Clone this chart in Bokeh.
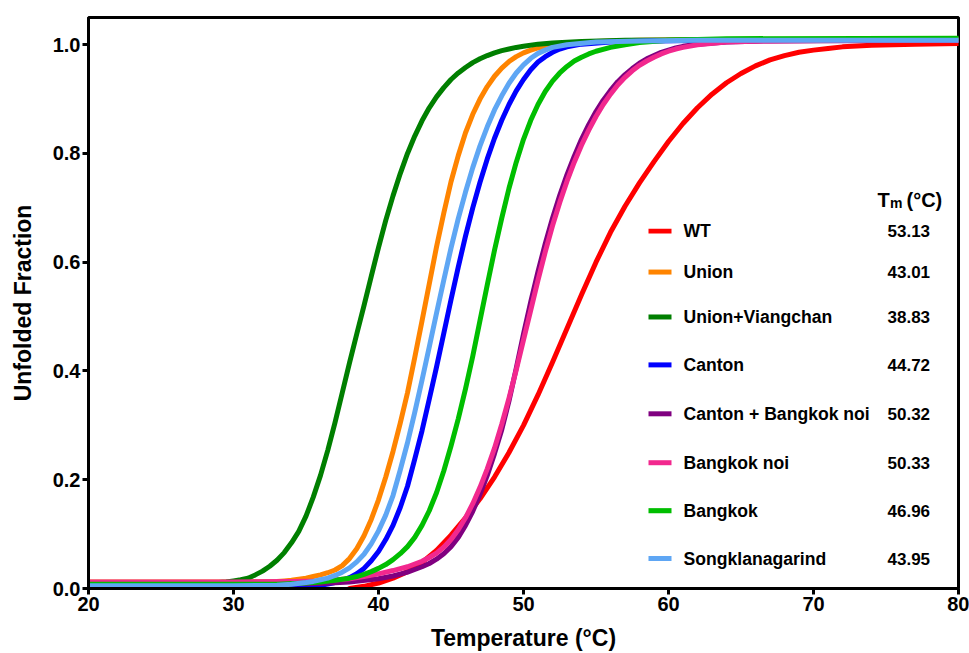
from bokeh.plotting import figure
from bokeh.models import Range1d, FixedTicker, PrintfTickFormatter, Label, BoxAnnotation
from bokeh.embed import file_html
from bokeh.resources import INLINE

# ---------------- data ----------------
series_names = ["WT", "Union", "Union+Viangchan", "Canton", "Canton + Bangkok noi",
                "Bangkok noi", "Bangkok", "Songklanagarind"]
tm_labels = ["53.13", "43.01", "38.83", "44.72", "50.32", "50.33", "46.96", "43.95"]

t_wt = [38, 39, 40, 41, 42, 43, 44, 45, 46, 47, 48, 49, 50, 51, 52, 53, 54, 55, 56, 57, 58,
        59, 60, 61, 62, 63, 64, 65, 66, 67, 68, 69, 70, 71, 72, 74, 77, 80]
f_wt = [0.000, 0.004, 0.010, 0.019, 0.031, 0.048, 0.070, 0.098, 0.130, 0.165, 0.205, 0.250,
        0.300, 0.356, 0.416, 0.478, 0.540, 0.600, 0.655, 0.703, 0.746, 0.785, 0.822, 0.855,
        0.884, 0.909, 0.930, 0.947, 0.961, 0.972, 0.980, 0.986, 0.990, 0.993, 0.996, 0.999,
        1.001, 1.002]

t_union = [20, 30, 33, 33.5, 34, 34.5, 35, 35.5, 36, 36.5, 37, 37.5, 38, 38.5, 39, 39.5, 40,
           40.5, 41, 41.5, 42, 42.5, 43, 43.5, 44, 44.5, 45, 45.5, 46, 46.5, 47, 47.5, 48,
           48.5, 49, 49.5, 50, 50.5, 51, 51.5, 52, 53, 55, 58, 62, 80]
f_union = [0.012, 0.012, 0.013, 0.014, 0.015, 0.017, 0.019, 0.022, 0.025, 0.029, 0.034, 0.042,
           0.055, 0.073, 0.097, 0.127, 0.163, 0.205, 0.252, 0.304, 0.360, 0.425, 0.492, 0.560,
           0.628, 0.690, 0.748, 0.796, 0.838, 0.872, 0.900, 0.923, 0.942, 0.957, 0.969, 0.978,
           0.985, 0.990, 0.994, 0.997, 0.999, 1.003, 1.006, 1.008, 1.009, 1.010]

t_union_viang = [20, 28, 29, 29.5, 30, 30.5, 31, 31.5, 32, 32.5, 33, 33.5, 34, 34.5, 35, 35.5,
                 36, 36.5, 37, 37.5, 38, 38.5, 39, 39.5, 40, 40.5, 41, 41.5, 42, 42.5, 43,
                 43.5, 44, 44.5, 45, 45.5, 46, 46.5, 47, 47.5, 48, 48.5, 49, 49.5, 50, 51, 52,
                 54, 57, 62, 80]
f_union_viang = [0.010, 0.010, 0.011, 0.012, 0.014, 0.016, 0.019, 0.025, 0.032, 0.041, 0.052,
                 0.066, 0.084, 0.105, 0.133, 0.168, 0.208, 0.254, 0.305, 0.360, 0.415, 0.468,
                 0.520, 0.574, 0.627, 0.677, 0.722, 0.763, 0.800, 0.832, 0.860, 0.884, 0.904,
                 0.921, 0.936, 0.948, 0.958, 0.967, 0.974, 0.980, 0.985, 0.989, 0.992, 0.995,
                 0.997, 1.001, 1.003, 1.006, 1.008, 1.009, 1.010]

t_canton = [20, 34, 35, 36, 36.5, 37, 37.5, 38, 38.5, 39, 39.5, 40, 40.5, 41, 41.5, 42, 42.5,
            43, 43.5, 44, 44.5, 45, 45.5, 46, 46.5, 47, 47.5, 48, 48.5, 49, 49.5, 50, 50.5,
            51, 51.5, 52, 52.5, 53, 54, 56, 59, 63, 80]
f_canton = [0.003, 0.003, 0.004, 0.006, 0.008, 0.011, 0.015, 0.020, 0.027, 0.037, 0.051,
            0.068, 0.090, 0.116, 0.149, 0.188, 0.238, 0.290, 0.348, 0.407, 0.469, 0.531,
            0.591, 0.648, 0.700, 0.747, 0.790, 0.828, 0.861, 0.890, 0.915, 0.936, 0.954,
            0.968, 0.978, 0.986, 0.992, 0.996, 1.001, 1.005, 1.007, 1.008, 1.008]

t_canton_bn = [20, 30, 36, 38, 40, 41, 42, 42.5, 43, 43.5, 44, 44.5, 45, 45.5, 46, 46.5, 47,
               47.5, 48, 48.5, 49, 49.5, 50, 50.5, 51, 51.5, 52, 52.5, 53, 53.5, 54, 54.5,
               55, 55.5, 56, 56.5, 57, 57.5, 58, 58.5, 59, 59.5, 60, 60.5, 61, 62, 64, 67, 80]
f_canton_bn = [0.008, 0.008, 0.009, 0.012, 0.018, 0.023, 0.030, 0.035, 0.040, 0.046, 0.054,
               0.064, 0.077, 0.094, 0.116, 0.142, 0.173, 0.208, 0.248, 0.292, 0.345, 0.405,
               0.468, 0.527, 0.583, 0.634, 0.681, 0.723, 0.761, 0.795, 0.826, 0.853, 0.877,
               0.898, 0.916, 0.932, 0.945, 0.956, 0.966, 0.974, 0.980, 0.986, 0.990, 0.994,
               0.997, 1.001, 1.005, 1.007, 1.008]

t_bangkok_noi = [20, 30, 34, 36, 38, 39, 40, 41, 42, 42.5, 43, 43.5, 44, 44.5, 45, 45.5, 46,
                 46.5, 47, 47.5, 48, 48.5, 49, 49.5, 50, 50.5, 51, 51.5, 52, 52.5, 53, 53.5,
                 54, 54.5, 55, 55.5, 56, 56.5, 57, 57.5, 58, 58.5, 59, 59.5, 60, 60.5, 61,
                 62, 64, 67, 72, 80]
f_bangkok_noi = [0.012, 0.012, 0.013, 0.014, 0.018, 0.022, 0.027, 0.033, 0.040, 0.045, 0.050,
                 0.057, 0.065, 0.076, 0.090, 0.108, 0.130, 0.156, 0.186, 0.220, 0.258, 0.302,
                 0.350, 0.402, 0.457, 0.512, 0.567, 0.619, 0.667, 0.710, 0.749, 0.784, 0.815,
                 0.843, 0.868, 0.890, 0.909, 0.926, 0.940, 0.952, 0.962, 0.970, 0.977, 0.983,
                 0.988, 0.992, 0.995, 1.000, 1.005, 1.007, 1.008, 1.008]

t_bangkok = [20, 33, 35, 36, 37, 38, 38.5, 39, 39.5, 40, 40.5, 41, 41.5, 42, 42.5, 43, 43.5,
             44, 44.5, 45, 45.5, 46, 46.5, 47, 47.5, 48, 48.5, 49, 49.5, 50, 50.5, 51, 51.5,
             52, 52.5, 53, 53.5, 54, 54.5, 55, 56, 57, 58, 60, 64, 80]
f_bangkok = [0.008, 0.008, 0.010, 0.012, 0.015, 0.019, 0.022, 0.026, 0.031, 0.037, 0.044,
             0.053, 0.064, 0.077, 0.094, 0.116, 0.143, 0.176, 0.216, 0.262, 0.312, 0.367,
             0.427, 0.493, 0.558, 0.622, 0.681, 0.736, 0.784, 0.826, 0.861, 0.890, 0.914,
             0.933, 0.948, 0.960, 0.970, 0.977, 0.983, 0.988, 0.995, 1.000, 1.004, 1.008,
             1.011, 1.012]

t_songkla = [20, 30, 33, 34, 35, 35.5, 36, 36.5, 37, 37.5, 38, 38.5, 39, 39.5, 40, 40.5, 41,
             41.5, 42, 42.5, 43, 43.5, 44, 44.5, 45, 45.5, 46, 46.5, 47, 47.5, 48, 48.5, 49,
             49.5, 50, 50.5, 51, 51.5, 52, 53, 55, 58, 62, 80]
f_songkla = [0.005, 0.005, 0.006, 0.008, 0.011, 0.013, 0.016, 0.019, 0.024, 0.030, 0.038,
             0.049, 0.063, 0.082, 0.106, 0.135, 0.171, 0.218, 0.268, 0.324, 0.383, 0.444,
             0.506, 0.567, 0.626, 0.680, 0.729, 0.774, 0.814, 0.849, 0.880, 0.906, 0.929,
             0.948, 0.963, 0.975, 0.984, 0.990, 0.995, 1.000, 1.005, 1.007, 1.008, 1.008]

x_ticks = [20, 30, 40, 50, 60, 70, 80]
y_ticks = [0.0, 0.2, 0.4, 0.6, 0.8, 1.0]

# ---------------- styling ----------------
colors = ["#FF0000", "#FF8400", "#007F00", "#0000FF", "#800080", "#F2288E", "#00BE00", "#5EA6F4"]
FONT = "Liberation Sans"

temps = [t_wt, t_union, t_union_viang, t_canton, t_canton_bn, t_bangkok_noi, t_bangkok, t_songkla]
fracs = [f_wt, f_union, f_union_viang, f_canton, f_canton_bn, f_bangkok_noi, f_bangkok, f_songkla]

X0, X1, Y0, Y1 = 20, 80, 0.0, 1.05
FL, FR, FT, FB = 88, 958, 17, 589  # frame pixel edges


def sx(px):
    return X0 + (px - FL) * (X1 - X0) / (FR - FL)


def sy(py):
    return Y1 - (py - FT) * (Y1 - Y0) / (FB - FT)


p = figure(width=969, height=653, x_range=Range1d(X0, X1), y_range=Range1d(Y0, Y1),
           output_backend="svg", toolbar_location=None,
           min_border_left=FL, min_border_right=969 - FR, min_border_top=FT,
           min_border_bottom=653 - FB)
p.xgrid.visible = False
p.ygrid.visible = False
p.background_fill_color = "white"
p.border_fill_color = "white"
p.outline_line_color = "black"
p.outline_line_width = 3

p.xaxis.ticker = FixedTicker(ticks=x_ticks)
p.yaxis.ticker = FixedTicker(ticks=y_ticks)
p.xaxis.formatter = PrintfTickFormatter(format="%d")
p.yaxis.formatter = PrintfTickFormatter(format="%.1f")
p.xaxis.axis_label = "Temperature (°C)"
p.yaxis.axis_label = "Unfolded Fraction"

for ax in (p.xaxis[0], p.yaxis[0]):
    ax.axis_line_width = 3
    ax.axis_line_color = "black"
    ax.major_tick_line_width = 3
    ax.major_tick_line_color = "black"
    ax.major_tick_out = 6
    ax.major_tick_in = 0
    ax.minor_tick_out = 0
    ax.minor_tick_in = 0
    ax.major_label_text_font = FONT
    ax.major_label_text_font_style = "bold"
    ax.major_label_text_font_size = "20px"
    ax.major_label_text_color = "black"
    ax.major_label_standoff = 2
    ax.axis_label_text_font = FONT
    ax.axis_label_text_font_style = "bold"
    ax.axis_label_text_font_size = "23px"
    ax.axis_label_text_color = "black"
p.xaxis[0].axis_label_standoff = 11
p.yaxis[0].axis_label_standoff = 14

for t, f, c in zip(temps, fracs, colors):
    p.line(x=t, y=f, line_color=c, line_width=5, line_join="round", line_cap="round")

# ---------------- legend (custom, inside the frame) ----------------
row_py = [231, 272, 317, 365, 414, 463, 511, 559]
for name, tm, c, py in zip(series_names, tm_labels, colors, row_py):
    p.add_layout(BoxAnnotation(left=sx(648), right=sx(671), bottom=sy(py + 2.5), top=sy(py - 2.5),
                               fill_color=c, fill_alpha=1.0, line_color=None))
    p.add_layout(Label(x=sx(683), y=sy(py), text=name, text_baseline="middle", text_align="left",
                       text_font=FONT, text_font_style="bold", text_font_size="17.6px",
                       text_color="black"))
    p.add_layout(Label(x=sx(887), y=sy(py), text=tm, text_baseline="middle", text_align="left",
                       text_font=FONT, text_font_style="bold", text_font_size="17px",
                       text_color="black"))

# header "Tm (°C)"
p.add_layout(Label(x=sx(877), y=sy(200), text="T", text_baseline="alphabetic", text_align="left",
                   text_font=FONT, text_font_style="bold", text_font_size="20px", text_color="black"))
p.add_layout(Label(x=sx(889.5), y=sy(203), text="m", text_baseline="alphabetic", text_align="left",
                   text_font=FONT, text_font_style="bold", text_font_size="14px", text_color="black"))
p.add_layout(Label(x=sx(906), y=sy(200), text="(°C)", text_baseline="alphabetic", text_align="left",
                   text_font=FONT, text_font_style="bold", text_font_size="20px", text_color="black"))

open("out.html", "w").write(file_html(p, INLINE))
